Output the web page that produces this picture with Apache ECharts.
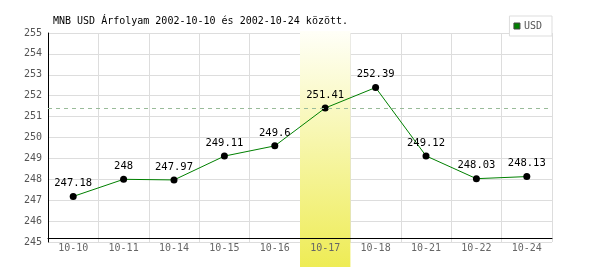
<!DOCTYPE html>
<html><head><meta charset="utf-8">
<script src="https://cdn.jsdelivr.net/npm/echarts@6/dist/echarts.min.js"></script>
<style>html,body{margin:0;padding:0;background:#fff}#c{width:600px;height:270px}</style>
</head><body><div id="c"></div>
<script>
var titleText = 'MNB USD Árfolyam 2002-10-10 és 2002-10-24 között.';
var seriesName = 'USD';
var categories = ['10-10','10-11','10-14','10-15','10-16','10-17','10-18','10-21','10-22','10-24'];
var values = [247.18, 248, 247.97, 249.11, 249.6, 251.41, 252.39, 249.12, 248.03, 248.13];
var highlightIndex = 5;
var yMin = 245, yMax = 255, yStep = 1;

var mono = 'DejaVu Sans Mono';
var bandData = categories.map(function(c, i){ return i === highlightIndex ? 1 : '-'; });

var chart = echarts.init(document.getElementById('c'), null, {renderer:'canvas'});
chart.setOption({
  animation: false,
  backgroundColor: '#fff',
  title: {
    text: titleText, left: 48, top: 11,
    textStyle: {fontFamily: mono, fontSize: 10, fontWeight: 'normal', color: '#000'}
  },
  legend: {
    data: [seriesName], right: 48, top: 16,
    icon: 'rect', itemWidth: 6, itemHeight: 6, itemGap: 4,
    padding: [5, 10, 5, 4], borderColor: '#ddd', borderWidth: 1, backgroundColor: '#fff',
    itemStyle: {color: '#008000', borderColor: '#444', borderWidth: 1},
    textStyle: {fontFamily: mono, fontSize: 10, color: '#555', padding: [0,0,0,-1]}
  },
  grid: [
    {left: 48, right: 48, top: 33, bottom: 28},
    {left: 48, right: 48, top: 31, bottom: 3}
  ],
  xAxis: [
    {type: 'category', gridIndex: 0, position: 'bottom', data: categories, boundaryGap: true, z: 0,
     axisLine: {show: false}, axisTick: {show: false}, axisLabel: {show: false},
     splitLine: {show: true, lineStyle: {color: '#ddd', width: 1}}},
    {type: 'category', gridIndex: 0, position: 'bottom', data: categories, boundaryGap: true, z: 6, offset: -4,
     axisLine: {show: true, lineStyle: {color: '#000', width: 1}}, axisTick: {show: false},
     axisLabel: {show: true, color: '#666', fontFamily: mono, fontSize: 10, margin: 5},
     splitLine: {show: false}},
    {type: 'category', gridIndex: 1, data: categories, boundaryGap: true, show: false}
  ],
  yAxis: [
    {type: 'value', gridIndex: 0, min: yMin, max: yMax, interval: yStep, z: 0,
     axisLine: {show: true, lineStyle: {color: '#000', width: 1}}, axisTick: {show: false},
     axisLabel: {color: '#555', fontFamily: mono, fontSize: 10, margin: 6},
     splitLine: {show: true, lineStyle: {color: '#ddd', width: 1}}},
    {type: 'value', gridIndex: 1, min: 0, max: 1, show: false}
  ],
  series: [
    {type: 'line', name: '_ref', xAxisIndex: 0, yAxisIndex: 0, data: [], z: 1, silent: true,
     markLine: {symbol: 'none', silent: true, label: {show: false},
       lineStyle: {color: '#9b9', type: [4, 4], width: 1},
       data: [{yAxis: values[highlightIndex]}]}},
    {type: 'bar', name: '_band', xAxisIndex: 2, yAxisIndex: 1, data: bandData, barWidth: '100%', z: 2, silent: true,
     itemStyle: {color: new echarts.graphic.LinearGradient(0,0,0,1,[{offset:0,color:'#fffff8'},{offset:1,color:'#eeec55'}])}},
    {type: 'line', name: seriesName, xAxisIndex: 0, yAxisIndex: 0, data: values, z: 3,
     symbol: 'circle', symbolSize: 7,
     lineStyle: {color: '#008000', width: 1},
     itemStyle: {color: '#000'},
     label: {show: true, position: 'top', distance: 4, color: '#000', fontFamily: mono, fontSize: 10.5}}
  ]
});
</script></body></html>
